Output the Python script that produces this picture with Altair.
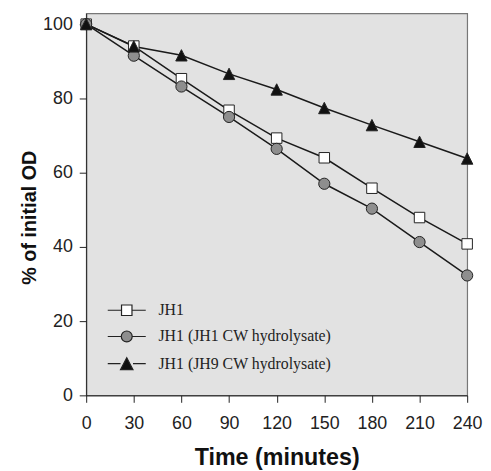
import altair as alt
import pandas as pd

time_min = [0, 30, 60, 90, 120, 150, 180, 210, 240]
jh1 = [100, 94.1, 85.3, 76.8, 69.3, 64.0, 55.8, 47.9, 40.8]
jh1_jh1cw = [100, 91.5, 83.2, 75.0, 66.4, 57.0, 50.3, 41.3, 32.3]
jh1_jh9cw = [100, 94.0, 91.6, 86.6, 82.4, 77.4, 72.8, 68.3, 63.8]
series_names = ["JH1", "JH1 (JH1 CW hydrolysate)", "JH1 (JH9 CW hydrolysate)"]
x_ticks = [0, 30, 60, 90, 120, 150, 180, 210, 240]
y_ticks = [0, 20, 40, 60, 80, 100]

rows = []
for name, vals in zip(series_names, [jh1, jh1_jh1cw, jh1_jh9cw]):
    for t, v in zip(time_min, vals):
        rows.append({"time": t, "od": v, "series": name})
df = pd.DataFrame(rows)

fills = ["#ffffff", "#8e8e8e", "#111111"]
TRI = "M0,-1L1,1L-1,1Z"
marker_shapes = ["square", "circle", TRI]
marker_sizes = [112, 128, 132]

# legend symbols: a line with the marker in the middle (units scaled by sqrt(size)/2 = 6px)
leg_paths = [
    "M-3.2,0H-0.88M0.88,0H3.2M-0.88,-0.88H0.88V0.88H-0.88Z",
    "M-3.2,0H-0.92M0.92,0H3.2M-0.92,0A0.92,0.92 0 1,0 0.92,0A0.92,0.92 0 1,0 -0.92,0Z",
    "M-3.2,0H-1.05M1.05,0H3.2M0,-1.0L1.05,1.0L-1.05,1.0Z",
]

x_enc = alt.X("time:Q", title="Time (minutes)",
              scale=alt.Scale(domain=[0, 240], nice=False, zero=False),
              axis=alt.Axis(values=x_ticks, grid=False, tickSize=7, labelPadding=12,
                            labelFlush=False, titlePadding=14, titleFontSize=23.5,
                            domainColor="#222", tickColor="#222"))
y_enc = alt.Y("od:Q", title="% of initial OD",
              scale=alt.Scale(domain=[0, 102.9], nice=False),
              axis=alt.Axis(values=y_ticks, grid=False, tickSize=7, labelPadding=7,
                            labelFlush=False, titlePadding=3, titleFontSize=20,
                            titleY=206,
                            domainColor="#222", tickColor="#222"))

lines = alt.Chart(df).mark_line(color="#1a1a1a", strokeWidth=1.5).encode(
    x=x_enc, y=y_enc, detail="series:N"
)

point_layers = []
for name, shp, fc, sz in zip(series_names, marker_shapes, fills, marker_sizes):
    point_layers.append(
        alt.Chart(df).transform_filter(alt.datum.series == name).mark_point(
            shape=shp, filled=True, fill=fc, stroke="#222", strokeWidth=1, opacity=1, size=sz
        ).encode(x=x_enc, y=y_enc)
    )

legend_layer = alt.Chart(df).transform_filter("false").mark_point(
    filled=True, strokeWidth=1.2, opacity=1
).encode(
    x=x_enc, y=y_enc,
    shape=alt.Shape("series:N", scale=alt.Scale(domain=series_names, range=leg_paths),
                    legend=alt.Legend(title=None, orient="none", legendX=19, legendY=292,
                                      symbolSize=144, symbolOpacity=1,
                                      symbolStrokeWidth=1.2, labelLimit=400,
                                      labelFont="Liberation Serif", labelFontSize=16,
                                      labelColor="#222", labelOffset=24, symbolOffset=14,
                                      rowPadding=10.5)),
    fill=alt.Fill("series:N", scale=alt.Scale(domain=series_names, range=fills), legend=None),
    stroke=alt.Stroke("series:N", scale=alt.Scale(domain=series_names,
                                                  range=["#222222", "#222222", "#222222"]),
                      legend=None),
)

chart = alt.layer(lines, *point_layers, legend_layer).properties(
    width=385, height=386,
    autosize=alt.AutoSizeParams(type="none"),
    padding={"left": 79, "top": 3, "right": 16, "bottom": 74}
).configure_view(
    fill="#e2e2e2", stroke="#777777", strokeWidth=1.2
).configure_axis(
    labelFont="Liberation Sans", labelFontSize=18, labelColor="#222",
    titleFont="Liberation Sans", titleFontWeight="bold", titleColor="#111",
)

chart.save("out.html", embed_options={"renderer": "svg", "actions": False})
